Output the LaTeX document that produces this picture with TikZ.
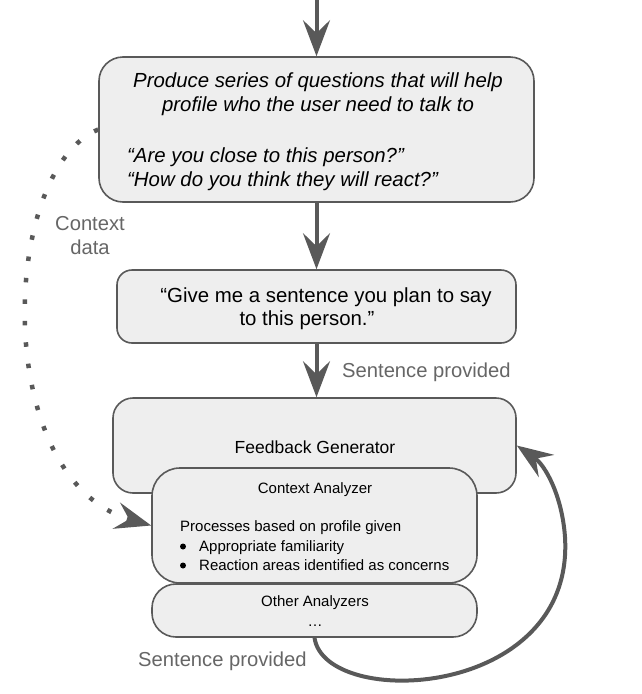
\documentclass[tikz,border=0pt]{standalone}
\usepackage{fontspec}
\setmainfont{Liberation Sans}
\usetikzlibrary{arrows.meta}
\definecolor{boxfill}{HTML}{EEEEEE}
\definecolor{edgecol}{HTML}{595959}
\definecolor{lblcol}{HTML}{666666}
\begin{document}
\begin{tikzpicture}[x=1pt,y=-1pt,
  box/.style={draw=edgecol, line width=1.6pt, fill=boxfill, inner sep=0pt},
  bigtip/.style={-{Stealth[length=36pt,width=27pt,inset=13pt]}},
  flow/.style={draw=edgecol, line width=4pt, bigtip},
  tx/.style={inner sep=0pt, anchor=base, font=\fontsize{20.4}{24}\selectfont},
  txi/.style={tx, font=\fontsize{20.4}{24}\selectfont\itshape},
  sm/.style={inner sep=0pt, anchor=base, font=\fontsize{15}{18}\selectfont},
  fgt/.style={inner sep=0pt, anchor=base, font=\fontsize{17.5}{21}\selectfont},
  lbl/.style={inner sep=0pt, anchor=base, text=lblcol, font=\fontsize{20.2}{24}\selectfont}
]
\useasboundingbox (0,0) rectangle (642,694);

% boxes
\node[box, rounded corners=24pt, minimum width=435pt, minimum height=145pt] (b1) at (316.5,129.5) {};
\node[box, rounded corners=15pt, minimum width=399pt, minimum height=73pt] (b2) at (316.5,306.5) {};
\node[box, rounded corners=20pt, minimum width=403pt, minimum height=95pt] (fg) at (314.5,445.5) {};
\node[box, rounded corners=28pt, minimum width=325pt, minimum height=115pt] (ca) at (314.5,525.5) {};
\node[box, rounded corners=24pt, minimum width=325pt, minimum height=53pt] (ot) at (314.5,610.5) {};

% box 1 text
\node[txi] (t1a) at (318,87) {Produce series of questions that will help};
\node[txi] (t1b) at (318,111) {profile who the user need to talk to};
\node[txi, anchor=base west] (t1c) at (127,162) {“Are you close to this person?”};
\node[txi, anchor=base west] (t1d) at (127,186) {“How do you think they will react?”};

% box 2 text
\node[tx] (t2a) at (326,302) {“Give me a sentence you plan to say};
\node[tx] (t2b) at (307,325) {to this person.”};

% feedback generator
\node[fgt] (fgl) at (315,453) {Feedback Generator};

% context analyzer
\node[sm] (cal) at (315,493) {Context Analyzer};
\node[sm, anchor=base west] (cap) at (180,531) {Processes based on profile given};
\node[sm, anchor=base west] (ca1) at (199,551) {Appropriate familiarity};
\node[sm, anchor=base west] (ca2) at (199,570) {Reaction areas identified as concerns};
\node[circle, fill=black, inner sep=0pt, minimum size=6pt] (bu1) at (183,546.5) {};
\node[circle, fill=black, inner sep=0pt, minimum size=6pt] (bu2) at (183,565.5) {};

% other analyzers
\node[sm] (otl) at (315,606) {Other Analyzers};
\node[sm] (otd) at (315,626) {…};

% labels
\node[lbl, anchor=base west] (sp1) at (342,377) {Sentence provided};
\node[lbl, anchor=base west] (sp2) at (138,666) {Sentence provided};
\node[lbl] (cd1) at (90,230) {Context};
\node[lbl] (cd2) at (90,254) {data};

% connectors
\coordinate (top) at (316.5,0);
\draw[flow] (top) -- (b1.north);
\draw[flow] (b1.south) -- (b2.north);
\draw[flow] (b2.south) -- (b2.south |- fg.north);

\draw[draw=edgecol, line width=4.5pt, dash pattern=on 4.5pt off 17pt, bigtip]
  (b1.west) .. controls (0,170) and (-10,480) .. (ca.west);

\draw[flow] (ot.south) .. controls (325,710) and (575,700) .. (565,537)
  .. controls (562,495) and (545,465) .. (fg.east);
\end{tikzpicture}
\end{document}
